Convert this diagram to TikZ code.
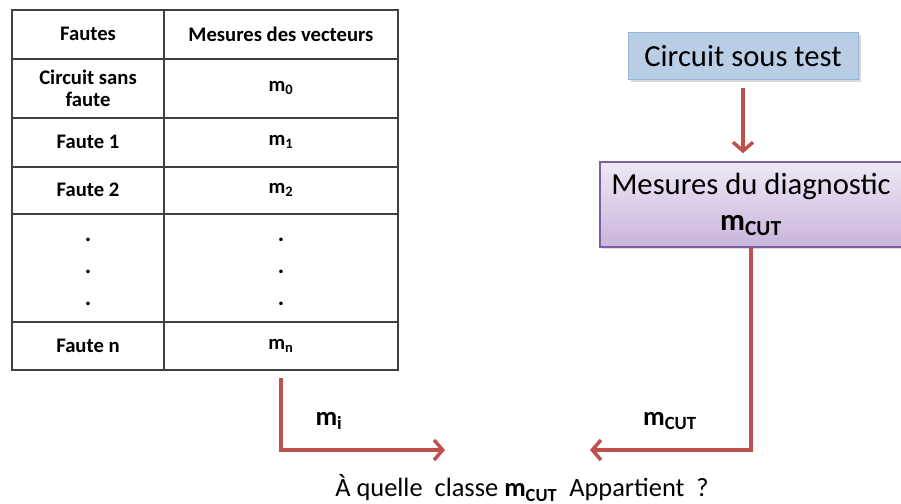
\documentclass[tikz,border=0pt]{standalone}
\usepackage{fontspec}
\setmainfont{Carlito}
\usetikzlibrary{arrows.meta,shadows}
\definecolor{arrowred}{HTML}{C0504D}
\definecolor{boxblue}{HTML}{B9CDE5}
\definecolor{boxblueline}{HTML}{95B3D7}
\definecolor{diagtop}{HTML}{EEE8F5}
\definecolor{diagbottom}{HTML}{C9B5DC}
\definecolor{diagline}{HTML}{7D5FA0}

\begin{document}
\begin{tikzpicture}[x=0.75pt, y=-0.75pt,
	tabline/.style={black!75, line width=1.1pt},
	cell/.style={font=\fontsize{15.5}{16.5}\selectfont\bfseries, align=center, inner sep=1pt},
	flow/.style={arrowred, line width=2.6pt, -{Straight Barb[length=6.5pt, width=15pt]}},
	lbl/.style={font=\fontsize{20}{22}\selectfont\bfseries, inner sep=1pt}]
	\useasboundingbox (0,0) rectangle (901,504);
	\draw[tabline] (12,10) rectangle (398,370);
	\draw[tabline] (164,10) -- (164,370);
	\foreach \y in {59,118,167,214,322}
		\draw[tabline] (12,\y) -- (398,\y);
	\node[cell] (hfautes) at (88,34) {Fautes};
	\node[cell] (hmesures) at (281,34) {Mesures des vecteurs};
	\node[cell] (f0) at (88,88) {Circuit sans\\faute};
	\node[cell] (m0) at (281,88) {m\textsubscript{0}};
	\node[cell] (f1) at (88,142) {Faute 1};
	\node[cell] (m1) at (281,142) {m\textsubscript{1}};
	\node[cell] (f2) at (88,190) {Faute 2};
	\node[cell] (m2) at (281,190) {m\textsubscript{2}};
	\foreach \y [count=\i] in {240,272,304} {
		\node[cell, font=\fontsize{18}{18}\selectfont\bfseries] (fdot\i) at (88,\y) {.};
		\node[cell, font=\fontsize{18}{18}\selectfont\bfseries] (mdot\i) at (281,\y) {.};
	}
	\node[cell] (fn) at (88,346) {Faute n};
	\node[cell] (mn) at (281,346) {m\textsubscript{n}};
	\node[fill=boxblue, draw=boxblueline, minimum width=230*0.75pt, minimum height=47*0.75pt,
		font=\fontsize{23}{25}\selectfont, drop shadow={shadow xshift=2pt, shadow yshift=-2pt, opacity=0.3}]
		(cut) at (743,56) {Circuit sous test};
	\node[top color=diagtop, bottom color=diagbottom, draw=diagline, line width=1.2pt,
		minimum width=302*0.75pt, minimum height=85*0.75pt, align=center,
		font=\fontsize{23}{27}\selectfont, drop shadow={shadow xshift=1.5pt, shadow yshift=-1.5pt, opacity=0.3}]
		(diag) at (751,204.5) {Mesures du diagnostic\\\textbf{m\textsubscript{CUT}}};
	\draw[flow, shorten <=6pt, shorten >=6pt] (cut) -- (cut |- diag.north);
	\coordinate (tabout) at (281,378);
	\coordinate (qleft) at (445,450);
	\coordinate (qright) at (590,450);
	\draw[flow] (tabout) |- (qleft);
	\draw[flow] (diag.south) |- (qright);
	\node[lbl] (mi) at (329,421) {m\textsubscript{i}};
	\node[lbl] (mcut) at (670,421) {m\textsubscript{CUT}};
	\node[font=\fontsize{19.8}{22}\selectfont] (question) at (522,488)
		{À quelle~ classe \textbf{m\textsubscript{CUT}}~ Appartient~ ?};
\end{tikzpicture}
\end{document}
